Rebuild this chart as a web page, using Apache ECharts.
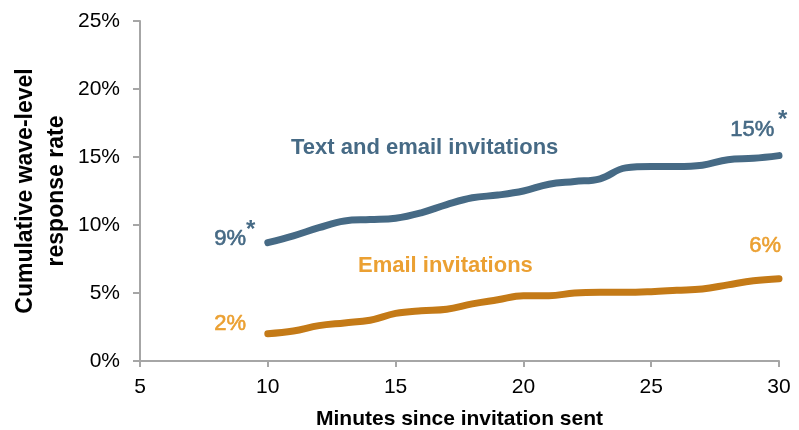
<!DOCTYPE html>
<html>
<head>
<meta charset="utf-8">
<script src="https://cdn.jsdelivr.net/npm/echarts@6/dist/echarts.min.js"></script>
<style>
  html, body { margin: 0; padding: 0; background: #fff; }
  #main { width: 799px; height: 430px; }
</style>
</head>
<body>
<div id="main"></div>
<script>
// minutes since invitation sent
var minutes = [10, 11, 12, 13, 14, 15, 16, 17, 18, 19, 20, 21, 22, 23, 24, 25, 26, 27, 28, 29, 30];
// cumulative response rate, %
var textEmail = [8.7, 9.2, 9.8, 10.3, 10.4, 10.5, 10.9, 11.5, 12.0, 12.2, 12.5, 13.0, 13.2, 13.4, 14.2, 14.3, 14.3, 14.4, 14.8, 14.9, 15.1];
var emailOnly = [2.0, 2.2, 2.6, 2.8, 3.0, 3.5, 3.7, 3.8, 4.2, 4.5, 4.8, 4.8, 5.0, 5.05, 5.05, 5.1, 5.2, 5.3, 5.6, 5.9, 6.05];

var BLUE = '#466a85';
var ORANGE_LINE = '#c47a17';
var ORANGE_TXT = '#eba032';
var FONT = '"Liberation Sans"';

function pairs(xs, ys) {
    return xs.map(function (x, i) { return [x, ys[i]]; });
}

var myChart = echarts.init(document.getElementById('main'));

var option = {
    animation: false,
    grid: { left: 140, right: 20, top: 21, bottom: 69, containLabel: false, outerBoundsMode: 'none' },
    xAxis: {
        type: 'value',
        min: 5, max: 30, interval: 5,
        name: 'Minutes since invitation sent',
        nameLocation: 'middle',
        nameGap: 48,
        nameTextStyle: { fontFamily: 'Liberation Sans', fontWeight: 'bold', fontSize: 21, color: '#000' },
        axisLine: { lineStyle: { color: '#a6a6a6', width: 2 } },
        axisTick: { length: 6, lineStyle: { color: '#a6a6a6', width: 2 } },
        axisLabel: { fontFamily: 'Liberation Sans', fontSize: 21, color: '#000', margin: 16 },
        splitLine: { show: false }
    },
    yAxis: {
        type: 'value',
        min: 0, max: 25, interval: 5,
        axisLine: { show: true, lineStyle: { color: '#a6a6a6', width: 2 } },
        axisTick: { show: true, length: 7, lineStyle: { color: '#a6a6a6', width: 2 } },
        axisLabel: { fontFamily: 'Liberation Sans', fontSize: 21, color: '#000', margin: 20, formatter: '{value}%' },
        splitLine: { show: false }
    },
    series: [
        {
            name: 'Text and email invitations',
            type: 'line',
            smooth: 0.4,
            symbol: 'none',
            data: pairs(minutes, textEmail),
            lineStyle: { color: BLUE, width: 7, cap: 'round', join: 'round' }
        },
        {
            name: 'Email invitations',
            type: 'line',
            smooth: 0.4,
            symbol: 'none',
            data: pairs(minutes, emailOnly),
            lineStyle: { color: ORANGE_LINE, width: 7, cap: 'round', join: 'round' }
        }
    ],
    graphic: [
        // y axis title
        { type: 'text', x: 41, y: 191, rotation: Math.PI / 2, style: {
            text: 'Cumulative wave-level\nresponse rate', fill: '#000', font: 'bold 23px ' + FONT,
            lineHeight: 31, align: 'center', verticalAlign: 'middle' } },
        { type: 'text', left: 291, top: 137, style: { text: 'Text and email invitations', fill: BLUE, font: 'bold 22px ' + FONT } },
        { type: 'text', left: 358, top: 255, style: { text: 'Email invitations', fill: ORANGE_TXT, font: 'bold 22px ' + FONT } },
        { type: 'text', left: 214, top: 228, style: { text: '9%', fill: BLUE, font: '22px ' + FONT, stroke: BLUE, lineWidth: 0.6 } },
        { type: 'text', left: 246, top: 218, style: { text: '*', fill: BLUE, font: 'bold 24px ' + FONT } },
        { type: 'text', left: 730, top: 119, style: { text: '15%', fill: BLUE, font: '22px ' + FONT, stroke: BLUE, lineWidth: 0.6 } },
        { type: 'text', left: 778, top: 108, style: { text: '*', fill: BLUE, font: 'bold 24px ' + FONT } },
        { type: 'text', left: 214, top: 313, style: { text: '2%', fill: ORANGE_TXT, font: '22px ' + FONT, stroke: ORANGE_TXT, lineWidth: 0.6 } },
        { type: 'text', left: 749, top: 235, style: { text: '6%', fill: ORANGE_TXT, font: '22px ' + FONT, stroke: ORANGE_TXT, lineWidth: 0.6 } }
    ]
};

myChart.setOption(option);
</script>
</body>
</html>
